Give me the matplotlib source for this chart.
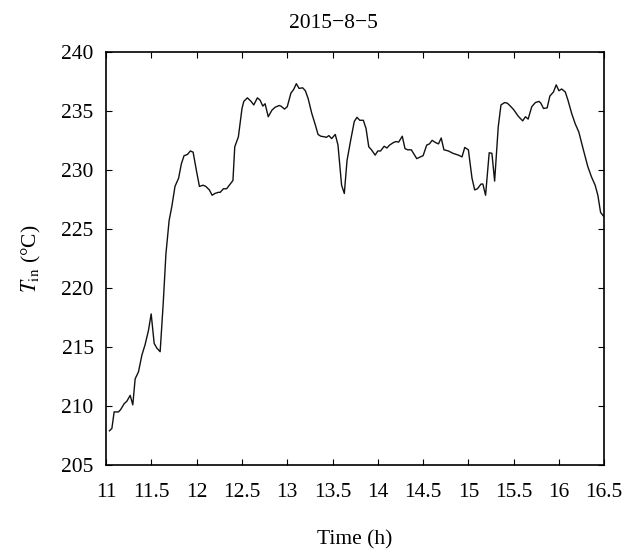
import matplotlib

matplotlib.use("Agg")
import matplotlib.pyplot as plt

# inlet temperature trace
time_h = [
    11.036, 11.063, 11.088, 11.136, 11.16, 11.199, 11.228, 11.265, 11.294, 11.32,
    11.357, 11.394, 11.43, 11.467, 11.497, 11.53, 11.56, 11.596, 11.63, 11.66,
    11.695, 11.725, 11.76, 11.8, 11.83, 11.86, 11.897, 11.93, 11.96, 12.0,
    12.03, 12.07, 12.1, 12.14, 12.17, 12.2, 12.24, 12.26, 12.295, 12.33,
    12.37, 12.4, 12.42, 12.46, 12.5, 12.52, 12.56, 12.6, 12.63, 12.67,
    12.7, 12.73, 12.755, 12.79, 12.83, 12.865, 12.91, 12.93, 12.97, 13.0,
    13.04, 13.07, 13.1, 13.13, 13.17, 13.2, 13.23, 13.27, 13.31, 13.34,
    13.37, 13.41, 13.43, 13.46, 13.49, 13.53, 13.56, 13.6, 13.63, 13.66,
    13.7, 13.74, 13.77, 13.8, 13.84, 13.87, 13.9, 13.93, 13.97, 14.0,
    14.03, 14.07, 14.1, 14.13, 14.17, 14.2, 14.23, 14.27, 14.3, 14.33,
    14.37, 14.43, 14.47, 14.5, 14.54, 14.57, 14.6, 14.64, 14.67, 14.7,
    14.73, 14.78, 14.83, 14.89, 14.93, 14.96, 15.0, 15.04, 15.07, 15.1,
    15.14, 15.16, 15.19, 15.23, 15.26, 15.29, 15.33, 15.36, 15.4, 15.43,
    15.47, 15.5, 15.55, 15.6, 15.63, 15.66, 15.7, 15.74, 15.78, 15.8,
    15.83, 15.87, 15.9, 15.94, 15.97, 16.0, 16.03, 16.07, 16.1, 16.14,
    16.18, 16.22, 16.27, 16.32, 16.36, 16.4, 16.43, 16.46, 16.49,
]
t_in = [
    207.9, 208.1, 209.5, 209.5, 209.7, 210.2, 210.4, 210.9, 210.1, 212.3,
    212.9, 214.3, 215.2, 216.4, 217.8, 215.3, 214.9, 214.6, 218.7, 222.9,
    225.7, 226.9, 228.6, 229.3, 230.5, 231.2, 231.3, 231.6, 231.5, 229.8,
    228.6, 228.7, 228.6, 228.3, 227.85, 228.0, 228.1, 228.1, 228.4, 228.4,
    228.8, 229.1, 231.95, 232.8, 235.2, 235.8, 236.1, 235.8, 235.5, 236.1,
    235.9, 235.4, 235.6, 234.5, 235.05, 235.3, 235.45, 235.4, 235.15, 235.35,
    236.5, 236.8, 237.3, 236.9, 236.95, 236.7, 236.05, 234.8, 233.8, 233.0,
    232.85, 232.8, 232.75, 232.9, 232.65, 233.0, 232.1, 228.7, 228.0, 230.8,
    232.5, 234.1, 234.45, 234.2, 234.2, 233.5, 231.95, 231.7, 231.25, 231.6,
    231.6, 232.0, 231.85, 232.1, 232.3, 232.4, 232.35, 232.85, 231.8, 231.7,
    231.7, 230.95, 231.1, 231.2, 232.1, 232.2, 232.5, 232.3, 232.2, 232.7,
    231.7, 231.6, 231.4, 231.25, 231.1, 231.9, 231.7, 229.3, 228.3, 228.4,
    228.8, 228.8, 227.85, 231.45, 231.4, 229.05, 233.65, 235.5, 235.7, 235.65,
    235.35, 235.1, 234.55, 234.15, 234.5, 234.3, 235.35, 235.7, 235.8, 235.65,
    235.2, 235.25, 236.25, 236.6, 237.2, 236.7, 236.85, 236.6, 235.9, 234.8,
    233.9, 233.2, 231.7, 230.25, 229.4, 228.7, 227.85, 226.4, 226.1,
]

x_ticks = [11, 11.5, 12, 12.5, 13, 13.5, 14, 14.5, 15, 15.5, 16, 16.5]
x_tick_labels = ["11", "11.5", "12", "12.5", "13", "13.5", "14", "14.5", "15", "15.5", "16", "16.5"]
y_ticks = [205, 210, 215, 220, 225, 230, 235, 240]

plt.rcParams["font.family"] = ["Liberation Serif", "DejaVu Serif"]
plt.rcParams["mathtext.fontset"] = "stix"

figure = plt.figure(figsize=(6.32, 5.51), dpi=100)
axis = figure.add_axes([0.168, 0.156, 0.788, 0.750])
axis.plot(time_h, t_in, color="#111111", linewidth=1.0)

axis.set_xlim(11, 16.5)
axis.set_ylim(205, 240)
axis.set_xticks(x_ticks)
axis.set_xticklabels(x_tick_labels)
axis.set_yticks(y_ticks)
axis.tick_params(direction="in", top=True, right=True, labelsize=15.5, length=4)
axis.tick_params(axis="x", pad=13)
axis.tick_params(axis="y", pad=9)
for spine in axis.spines.values():
    spine.set_linewidth(1.2)

# title sits a little left of the axes centre in the original
axis.set_title("2015\u22128\u22125", fontsize=15.5, pad=17, x=0.456)
axis.set_xlabel("Time (h)", fontsize=15.5, labelpad=20)
axis.set_ylabel("$T_{\\mathrm{in}}$ (\u00b0C)", fontsize=15.5, labelpad=13)

figure.savefig("out.png", dpi=100)
plt.close(figure)
